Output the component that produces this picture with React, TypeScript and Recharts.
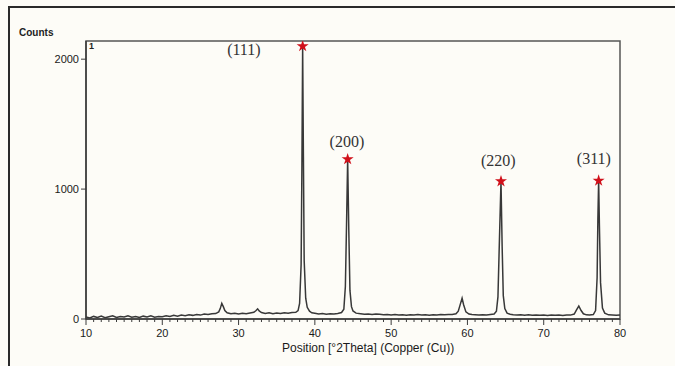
import { ComposedChart, Line, Scatter, XAxis, YAxis, ZAxis, ReferenceArea, LabelList } from 'recharts';

// 2theta (deg) / counts pairs
const scan: [number, number][] = [
  [10.0, 15], [10.5, 8], [11.0, 20], [11.5, 12], [12.0, 22], [12.5, 10], [13.0, 18], [13.5, 25],
  [14.0, 12], [14.5, 20], [15.0, 15], [15.5, 24], [16.0, 14], [16.5, 20], [17.0, 12], [17.5, 22],
  [18.0, 16], [18.5, 24], [19.0, 14], [19.5, 20], [20.0, 18], [20.5, 25], [21.0, 20], [21.5, 28],
  [22.0, 22], [22.5, 30], [23.0, 26], [23.5, 32], [24.0, 28], [24.5, 35], [25.0, 30], [25.5, 38],
  [26.0, 34], [26.5, 40], [27.0, 42], [27.4, 55], [27.6, 80], [27.8, 120], [28.0, 95], [28.2, 65],
  [28.5, 48], [29.0, 40], [29.5, 45], [30.0, 38], [30.5, 44], [31.0, 40], [31.5, 46], [32.0, 52],
  [32.3, 65], [32.5, 78], [32.7, 62], [33.0, 50], [33.5, 42], [34.0, 48], [34.5, 40], [35.0, 46],
  [35.5, 42], [36.0, 48], [36.5, 44], [37.0, 50], [37.5, 52], [37.8, 65], [38.0, 120], [38.2, 420],
  [38.3, 1150], [38.4, 2100], [38.5, 1250], [38.6, 450], [38.8, 160], [39.0, 90], [39.3, 60], [39.6, 48],
  [40.0, 44], [40.5, 38], [41.0, 42], [41.5, 36], [42.0, 40], [42.5, 38], [43.0, 42], [43.5, 50],
  [43.8, 75], [44.0, 250], [44.15, 720], [44.3, 1230], [44.45, 680], [44.6, 220], [44.8, 95], [45.0, 62],
  [45.4, 45], [46.0, 40], [46.5, 36], [47.0, 38], [47.5, 34], [48.0, 38], [48.5, 36], [49.0, 32],
  [49.5, 35], [50.0, 30], [50.5, 34], [51.0, 30], [51.5, 32], [52.0, 28], [52.5, 33], [53.0, 30],
  [53.5, 34], [54.0, 30], [54.5, 32], [55.0, 28], [55.5, 33], [56.0, 30], [56.5, 34], [57.0, 32],
  [57.5, 35], [58.0, 34], [58.5, 40], [58.8, 60], [59.1, 120], [59.3, 160], [59.5, 110], [59.8, 55],
  [60.2, 38], [60.6, 34], [61.0, 32], [61.5, 30], [62.0, 33], [62.5, 30], [63.0, 34], [63.5, 38],
  [63.8, 60], [64.0, 170], [64.2, 620], [64.4, 1060], [64.55, 560], [64.7, 180], [64.9, 80], [65.2, 45],
  [65.6, 36], [66.0, 32], [66.5, 30], [67.0, 33], [67.5, 29], [68.0, 32], [68.5, 28], [69.0, 31],
  [69.5, 28], [70.0, 30], [70.5, 27], [71.0, 31], [71.5, 28], [72.0, 30], [72.5, 27], [73.0, 31],
  [73.5, 30], [74.0, 38], [74.3, 70], [74.6, 100], [74.9, 65], [75.2, 40], [75.6, 32], [76.0, 30],
  [76.5, 34], [76.8, 65], [77.0, 320], [77.1, 770], [77.2, 1065], [77.3, 720], [77.45, 280], [77.7, 85],
  [78.0, 45], [78.5, 32], [79.0, 30], [79.5, 28], [80.0, 30],
];

// indexed reflections (marked with stars)
const peakPositions = [38.4, 44.3, 64.4, 77.2];
const peakCounts = [2100, 1230, 1060, 1065];
const peakLabels = ['(111)', '(200)', '(220)', '(311)'];

const xTicks = [10, 20, 30, 40, 50, 60, 70, 80];
const yTicks = [0, 1000, 2000];
const xDomain: [number, number] = [10, 80];
const yDomain: [number, number] = [0, 2140];

const scanData = scan.map(([x, y]) => ({ x, y }));
const peakData = peakPositions.map((x, i) => ({ x, y: peakCounts[i], label: peakLabels[i] }));

// all integer degrees get a minor tick, the decades get a label
const allXTicks = Array.from({ length: xDomain[1] - xDomain[0] + 1 }, (_, i) => xDomain[0] + i);

const labelOffset: Record<string, [number, number]> = {
  '(111)': [-55, 13],
  '(200)': [3, -8],
  '(220)': [1, -12],
  '(311)': [-1, -13],
};

const sans = '"Liberation Sans", Arial, sans-serif';
const ink = '#3c3c3c';

const XTick = (props: any) => {
  const { x, y, payload } = props;
  const major = xTicks.includes(payload.value);
  return (
    <g>
      <line x1={x} x2={x} y1={y} y2={y + (major ? 6 : 3)} stroke={ink} strokeWidth={1} />
      {major && (
        <text x={x} y={y + 18} textAnchor="middle" fontSize={11} fontFamily={sans} fill="#1a1a1a">
          {payload.value}
        </text>
      )}
    </g>
  );
};

const PeakLabel = (props: any) => {
  const { x, y, value } = props;
  const [dx, dy] = labelOffset[value] ?? [0, -12];
  return (
    <text x={x + dx} y={y + dy} textAnchor="middle" fontSize={16}
      fontFamily='"Liberation Serif", "Times New Roman", serif' fill="#333">
      {value}
    </text>
  );
};

export default function App() {
  return (
    <div style={{ position: 'absolute', left: 0, top: 0, width: 675, height: 366, background: '#fdfcf7', overflow: 'hidden' }}>
      <div style={{ position: 'absolute', left: 8, top: 6, right: -4, bottom: -4, borderLeft: '2px solid #2a2a2a', borderTop: '2px solid #2a2a2a' }} />
      <div style={{ position: 'absolute', left: 19, top: 27, fontFamily: sans, fontSize: 10, fontWeight: 600, color: '#222' }}>Counts</div>
      <div style={{ position: 'absolute', left: 89, top: 41, fontFamily: sans, fontSize: 9, fontWeight: 700, color: '#222' }}>1</div>
      <div style={{ position: 'absolute', left: 282, top: 341, fontFamily: sans, fontSize: 12, color: '#1a1a1a', whiteSpace: 'nowrap' }}>
        Position [°2Theta] (Copper (Cu))
      </div>
      <ComposedChart width={675} height={366} data={scanData}
        margin={{ top: 41, right: 55, left: 46, bottom: 17 }}>
        <XAxis dataKey="x" type="number" domain={xDomain} ticks={allXTicks} interval={0}
          tick={<XTick />} tickLine={false} tickSize={0} tickMargin={0} height={30}
          axisLine={{ stroke: ink, strokeWidth: 1.5 }} allowDataOverflow />
        <YAxis type="number" domain={yDomain} ticks={yTicks} width={40} tickSize={5} tickMargin={2}
          tick={{ fontSize: 11, fontFamily: sans, fill: '#1a1a1a' }}
          tickLine={{ stroke: ink }} axisLine={{ stroke: ink, strokeWidth: 1.5 }} allowDataOverflow />
        <ZAxis range={[45, 45]} />
        <ReferenceArea x1={xDomain[0]} x2={xDomain[1]} y1={yDomain[0]} y2={yDomain[1]}
          fill="none" stroke="#555" strokeWidth={1.5} />
        <Line dataKey="y" type="linear" stroke="#383838" strokeWidth={1.5} dot={false}
          activeDot={false} isAnimationActive={false} />
        <Scatter data={peakData} dataKey="y" shape="star" fill="#d0101a" isAnimationActive={false}>
          <LabelList dataKey="label" content={<PeakLabel />} />
        </Scatter>
      </ComposedChart>
    </div>
  );
}
